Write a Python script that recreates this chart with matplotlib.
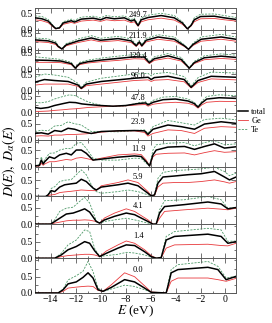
import matplotlib
matplotlib.use('Agg')
import matplotlib.pyplot as plt
from matplotlib.ticker import MultipleLocator

plt.rcParams['font.family'] = ['Liberation Serif', 'DejaVu Serif']
plt.rcParams['mathtext.fontset'] = 'stix'

# labels of the panels, top to bottom
temps = ['249.7', '211.9', '129.4', '96.0', '47.8', '23.9', '11.9', '5.9', '4.1', '1.4', '0.0']
ytops = [0.66, 0.62, 0.60, 0.66, 0.68, 0.84, 0.82, 0.92, 0.85, 1.05, 1.07]

# 249.7
e0 = [-15.25, -14.7, -14.2, -13.8, -13.6, -13.3, -13.0, -12.35, -12.1, -11.55, -10.6, -10.0, -9.55, -8.9, -8.1,
      -7.55, -7.3, -7.0, -6.75, -6.2, -5.15, -4.1, -3.45, -3.05, -2.75, -2.5, -2.0, -0.9, -0.1, 0.85]
tot0 = [0.36, 0.33, 0.26, 0.10, 0.03, 0.05, 0.20, 0.27, 0.23, 0.32, 0.35, 0.30, 0.37, 0.33, 0.36,
        0.26, 0.30, 0.12, 0.30, 0.37, 0.43, 0.36, 0.20, 0.02, 0.13, 0.30, 0.40, 0.41, 0.36, 0.31]
ge0 = [0.30, 0.27, 0.21, 0.08, 0.02, 0.04, 0.16, 0.22, 0.19, 0.26, 0.29, 0.25, 0.30, 0.27, 0.29,
       0.21, 0.24, 0.10, 0.24, 0.30, 0.35, 0.29, 0.16, 0.02, 0.11, 0.24, 0.33, 0.34, 0.30, 0.26]
te0 = [0.42, 0.40, 0.31, 0.12, 0.04, 0.06, 0.24, 0.32, 0.28, 0.38, 0.41, 0.36, 0.43, 0.39, 0.42,
       0.31, 0.35, 0.14, 0.36, 0.44, 0.50, 0.43, 0.24, 0.03, 0.15, 0.36, 0.47, 0.48, 0.43, 0.37]

# 211.9
e1 = [-15.25, -14.2, -13.6, -13.4, -13.1, -12.75, -11.8, -10.75, -10.0, -8.6, -7.55, -7.15, -6.9, -6.7, -6.35,
      -5.4, -4.1, -3.3, -2.96, -2.6, -1.95, -0.35, 0.85]
tot1 = [0.30, 0.27, 0.20, 0.10, 0.02, 0.15, 0.27, 0.36, 0.29, 0.34, 0.27, 0.12, 0.24, 0.12, 0.29,
        0.39, 0.32, 0.12, 0.01, 0.16, 0.32, 0.39, 0.32]
ge1 = [0.25, 0.22, 0.16, 0.08, 0.02, 0.12, 0.22, 0.30, 0.24, 0.28, 0.22, 0.10, 0.20, 0.10, 0.24,
       0.32, 0.26, 0.10, 0.01, 0.13, 0.26, 0.32, 0.26]
te1 = [0.36, 0.33, 0.25, 0.12, 0.03, 0.19, 0.33, 0.43, 0.35, 0.41, 0.33, 0.15, 0.29, 0.15, 0.35,
       0.46, 0.39, 0.15, 0.02, 0.20, 0.39, 0.47, 0.39]

# 129.4
e2 = [-15.25, -14.2, -13.2, -12.35, -12.03, -11.68, -11.0, -9.95, -8.6, -7.3, -6.5, -6.1, -5.7, -4.6, -3.55,
      -2.9, -2.5, -1.7, -0.35, 0.85]
tot2 = [0.28, 0.27, 0.25, 0.17, 0.03, 0.17, 0.23, 0.28, 0.33, 0.38, 0.37, 0.20, 0.32, 0.41, 0.30,
        0.03, 0.20, 0.35, 0.40, 0.36]
ge2 = [0.21, 0.21, 0.20, 0.14, 0.03, 0.14, 0.19, 0.23, 0.27, 0.32, 0.31, 0.17, 0.27, 0.34, 0.25,
       0.03, 0.17, 0.29, 0.33, 0.30]
te2 = [0.38, 0.34, 0.30, 0.21, 0.04, 0.21, 0.28, 0.34, 0.40, 0.45, 0.44, 0.24, 0.38, 0.48, 0.36,
       0.04, 0.24, 0.41, 0.47, 0.43]

# 96.0
e3 = [-15.25, -14.5, -13.7, -12.6, -11.8, -11.55, -11.15, -9.95, -7.3, -6.2, -5.95, -5.7, -4.6, -3.3, -2.75,
      -2.2, -1.15, 0.85]
tot3 = [0.26, 0.34, 0.31, 0.28, 0.17, 0.07, 0.20, 0.28, 0.38, 0.41, 0.34, 0.40, 0.44, 0.34, 0.10,
        0.31, 0.44, 0.41]
ge3 = [0.17, 0.20, 0.20, 0.20, 0.13, 0.05, 0.15, 0.20, 0.31, 0.33, 0.28, 0.32, 0.34, 0.27, 0.08,
       0.25, 0.36, 0.33]
te3 = [0.41, 0.51, 0.48, 0.41, 0.22, 0.10, 0.26, 0.38, 0.51, 0.53, 0.45, 0.52, 0.56, 0.43, 0.14,
       0.40, 0.57, 0.54]

# 47.8
e4 = [-15.25, -14.8, -14.2, -13.7, -13.0, -12.5, -12.0, -11.5, -11.0, -10.0, -9.0, -8.0, -7.0, -6.4, -6.2,
      -5.8, -5.0, -4.0, -3.0, -2.5, -2.2, -1.9, -1.5, -0.5, 0.85]
tot4 = [0.16, 0.13, 0.16, 0.22, 0.28, 0.32, 0.31, 0.27, 0.25, 0.22, 0.20, 0.22, 0.28, 0.30, 0.24,
        0.32, 0.40, 0.42, 0.36, 0.28, 0.17, 0.30, 0.42, 0.46, 0.44]
ge4 = [0.04, 0.04, 0.05, 0.07, 0.09, 0.11, 0.12, 0.14, 0.16, 0.18, 0.20, 0.21, 0.24, 0.25, 0.20,
       0.26, 0.30, 0.32, 0.29, 0.23, 0.14, 0.24, 0.32, 0.35, 0.34]
te4 = [0.32, 0.30, 0.34, 0.42, 0.50, 0.55, 0.52, 0.42, 0.33, 0.23, 0.19, 0.21, 0.30, 0.34, 0.27,
       0.38, 0.48, 0.50, 0.42, 0.32, 0.19, 0.35, 0.50, 0.55, 0.52]

# 23.9
e5 = [-15.25, -14.75, -14.2, -13.68, -13.15, -12.61, -12.08, -11.55, -10.75, -9.95, -8.61, -7.28, -6.48, -6.21,
      -5.81, -4.61, -3.55, -2.48, -1.68, -0.35, 0.85]
tot5 = [0.20, 0.22, 0.18, 0.29, 0.26, 0.36, 0.33, 0.26, 0.20, 0.26, 0.28, 0.29, 0.28, 0.17,
        0.33, 0.46, 0.41, 0.33, 0.49, 0.56, 0.51]
ge5 = [0.12, 0.13, 0.12, 0.15, 0.15, 0.17, 0.17, 0.18, 0.20, 0.24, 0.28, 0.28, 0.23, 0.12,
       0.20, 0.31, 0.29, 0.20, 0.36, 0.41, 0.39]
te5 = [0.26, 0.30, 0.28, 0.43, 0.45, 0.56, 0.50, 0.46, 0.26, 0.26, 0.25, 0.29, 0.31, 0.20,
       0.41, 0.60, 0.53, 0.46, 0.63, 0.67, 0.62]

# 11.9
e6 = [-15.25, -14.9, -14.75, -14.6, -14.48, -14.1, -13.7, -13.28, -12.75, -12.35, -11.95, -11.55, -11.15, -10.61,
      -9.95, -8.61, -7.28, -6.75, -6.35, -6.08, -5.81, -5.55, -4.61, -3.28, -2.48, -1.68, -0.88, -0.08, 0.85]
tot6 = [0.02, 0.04, 0.20, 0.08, 0.15, 0.30, 0.25, 0.36, 0.41, 0.36, 0.51, 0.51, 0.41, 0.20,
        0.23, 0.29, 0.33, 0.31, 0.15, 0.02, 0.36, 0.51, 0.60, 0.62, 0.53, 0.62, 0.70, 0.57, 0.61]
ge6 = [0.01, 0.02, 0.10, 0.04, 0.08, 0.15, 0.15, 0.18, 0.22, 0.20, 0.26, 0.28, 0.25, 0.20,
       0.26, 0.36, 0.39, 0.37, 0.20, 0.02, 0.30, 0.38, 0.41, 0.42, 0.36, 0.43, 0.49, 0.44, 0.46]
te6 = [0.03, 0.06, 0.30, 0.12, 0.22, 0.41, 0.42, 0.51, 0.56, 0.55, 0.72, 0.74, 0.56, 0.26,
       0.20, 0.20, 0.26, 0.25, 0.10, 0.02, 0.51, 0.67, 0.72, 0.74, 0.64, 0.74, 0.80, 0.67, 0.70]

# 5.9
e7 = [-15.25, -14.4, -14.21, -13.95, -13.68, -13.28, -12.88, -12.35, -11.95, -11.55, -11.15, -10.61, -10.35,
      -9.95, -8.61, -7.81, -7.01, -6.21, -5.95, -5.68, -5.41, -5.01, -4.08, -3.01, -1.95, -0.88, -0.08, 0.32, 0.85]
tot7 = [0.0, 0.0, 0.05, 0.18, 0.15, 0.29, 0.36, 0.39, 0.41, 0.53, 0.46, 0.26, 0.20,
        0.29, 0.36, 0.41, 0.33, 0.10, 0.02, 0.05, 0.41, 0.60, 0.63, 0.67, 0.70, 0.77, 0.60, 0.51, 0.60]
ge7 = [0.0, 0.0, 0.03, 0.05, 0.06, 0.12, 0.14, 0.16, 0.18, 0.20, 0.19, 0.18, 0.18,
       0.33, 0.43, 0.51, 0.43, 0.15, 0.02, 0.04, 0.29, 0.41, 0.43, 0.43, 0.46, 0.51, 0.45, 0.41, 0.46]
te7 = [0.0, 0.0, 0.06, 0.25, 0.30, 0.46, 0.50, 0.52, 0.67, 0.82, 0.67, 0.26, 0.15,
       0.10, 0.15, 0.20, 0.15, 0.05, 0.01, 0.05, 0.56, 0.74, 0.80, 0.82, 0.85, 0.90, 0.77, 0.64, 0.72]

# 4.1
e8 = [-15.25, -14.0, -13.68, -13.28, -12.75, -12.2, -11.68, -11.28, -10.88, -10.35, -10.08, -9.68, -8.88, -7.95,
      -7.28, -6.21, -5.81, -5.55, -5.28, -4.88, -3.28, -1.41, -0.35, 0.19, 0.85]
tot8 = [0.0, 0.0, 0.08, 0.18, 0.31, 0.34, 0.41, 0.47, 0.37, 0.08, 0.03, 0.13, 0.24, 0.34,
        0.29, 0.08, 0.0, 0.0, 0.34, 0.54, 0.60, 0.68, 0.62, 0.47, 0.51]
ge8 = [0.0, 0.0, 0.03, 0.06, 0.10, 0.12, 0.12, 0.13, 0.12, 0.08, 0.03, 0.19, 0.34, 0.47,
       0.39, 0.13, 0.0, 0.0, 0.18, 0.39, 0.44, 0.49, 0.46, 0.44, 0.49]
te8 = [0.0, 0.0, 0.13, 0.39, 0.49, 0.52, 0.70, 0.82, 0.65, 0.10, 0.03, 0.08, 0.13, 0.18,
       0.13, 0.03, 0.0, 0.0, 0.44, 0.72, 0.75, 0.85, 0.75, 0.49, 0.51]

# 1.4
e9 = [-15.25, -13.68, -13.15, -12.61, -11.95, -11.28, -10.88, -10.48, -10.08, -9.55, -8.61, -7.95, -7.28, -6.48,
      -5.95, -5.55, -5.15, -4.75, -4.08, -1.41, -0.35, 0.19, 0.85]
tot9 = [0.0, 0.0, 0.10, 0.26, 0.36, 0.51, 0.46, 0.23, 0.05, 0.15, 0.31, 0.41, 0.39, 0.20,
        0.05, 0.0, 0.02, 0.56, 0.67, 0.74, 0.67, 0.46, 0.51]
ge9 = [0.0, 0.0, 0.05, 0.08, 0.10, 0.12, 0.12, 0.10, 0.05, 0.22, 0.41, 0.53, 0.46, 0.26,
       0.08, 0.0, 0.01, 0.31, 0.41, 0.43, 0.39, 0.38, 0.46]
te9 = [0.0, 0.0, 0.15, 0.41, 0.56, 0.87, 0.82, 0.30, 0.05, 0.08, 0.12, 0.18, 0.16, 0.10,
       0.03, 0.0, 0.03, 0.67, 0.82, 0.92, 0.87, 0.52, 0.53]

# 0.0
e10 = [-15.25, -13.4, -13.0, -12.61, -11.95, -11.41, -11.01, -10.61, -10.21, -9.81, -9.15, -8.08, -7.28, -6.48,
       -5.95, -4.75, -4.55, -4.35, -3.81, -1.41, -0.61, 0.05, 0.85]
tot10 = [0.0, 0.0, 0.10, 0.28, 0.34, 0.48, 0.62, 0.46, 0.10, 0.05, 0.17, 0.41, 0.34, 0.15,
         0.02, 0.0, 0.30, 0.62, 0.72, 0.79, 0.72, 0.41, 0.51]
ge10 = [0.0, 0.0, 0.05, 0.15, 0.18, 0.20, 0.21, 0.20, 0.08, 0.05, 0.25, 0.62, 0.50, 0.22,
        0.03, 0.0, 0.18, 0.36, 0.46, 0.46, 0.41, 0.36, 0.45]
te10 = [0.0, 0.0, 0.12, 0.40, 0.53, 0.67, 0.97, 0.66, 0.15, 0.05, 0.12, 0.24, 0.20, 0.10,
        0.02, 0.0, 0.38, 0.72, 0.87, 0.97, 0.82, 0.46, 0.52]

energies = [e0, e1, e2, e3, e4, e5, e6, e7, e8, e9, e10]
totals = [tot0, tot1, tot2, tot3, tot4, tot5, tot6, tot7, tot8, tot9, tot10]
ges = [ge0, ge1, ge2, ge3, ge4, ge5, ge6, ge7, ge8, ge9, ge10]
tes = [te0, te1, te2, te3, te4, te5, te6, te7, te8, te9, te10]

fig = plt.figure(figsize=(2.72, 3.23), dpi=100)
gs = fig.add_gridspec(len(temps), 1, height_ratios=ytops, hspace=0,
                      left=0.129, right=0.868, top=0.975, bottom=0.093)

axes = []
for i in range(len(temps)):
    ax = fig.add_subplot(gs[i, 0])
    axes.append(ax)
    l_tot, = ax.plot(energies[i], totals[i], color='black', lw=1.1, label='total', zorder=3)
    l_ge, = ax.plot(energies[i], ges[i], color='#e8393c', lw=0.6, label='Ge', zorder=2)
    l_te, = ax.plot(energies[i], tes[i], color='#4e9a68', lw=0.6, ls=(0, (2.5, 1.5)), label='Te', zorder=1)
    ax.set_xlim(-15.25, 0.85)
    ax.set_ylim(0, ytops[i])
    ax.xaxis.set_major_locator(MultipleLocator(2))
    ax.xaxis.set_minor_locator(MultipleLocator(1))
    ax.set_yticks([0.0, 0.5])
    ax.set_yticklabels(['0.0', '0.5'])
    ax.yaxis.set_minor_locator(MultipleLocator(0.25))
    ax.tick_params(which='both', direction='in', top=True, right=True, labelsize=7,
                   pad=1.5, color='0.35', width=0.6)
    ax.tick_params(which='major', length=3.5)
    ax.tick_params(which='minor', length=1.8)
    for s in ax.spines.values():
        s.set_color('0.35')
        s.set_linewidth(0.7)
    ax.text(-7.0, ytops[i] * 0.66, temps[i], fontsize=6, ha='center', va='center')
    if i < len(temps) - 1:
        ax.tick_params(labelbottom=False)

axes[-1].set_xlabel(r'$E$ (eV)', fontsize=9.5, labelpad=0)
fig.text(0.035, 0.5, r'$D(E),\ D_{\alpha}(E)$', rotation=90, fontsize=10, ha='center', va='center')

fig.legend([l_tot, l_ge, l_te], ['total', 'Ge', 'Te'], loc='center left',
           bbox_to_anchor=(0.875, 0.625), frameon=False, fontsize=6,
           handlelength=1.2, handletextpad=0.4, labelspacing=0.1, borderpad=0, borderaxespad=0)

fig.savefig('out.png', dpi=100)
